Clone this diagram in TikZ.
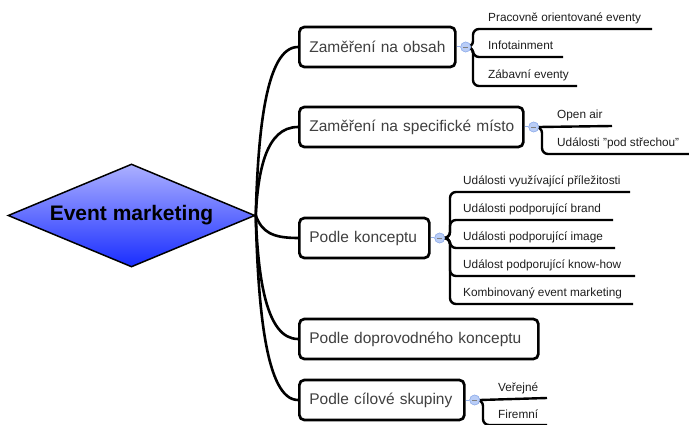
\documentclass[tikz,border=0pt]{standalone}
\usepackage{fontspec}
\setmainfont{Liberation Sans}
\usetikzlibrary{shapes.geometric,calc}
\definecolor{boxtext}{RGB}{64,64,64}
\definecolor{leaftext}{RGB}{30,30,30}
\definecolor{circfill}{RGB}{185,205,247}
\definecolor{circdraw}{RGB}{150,178,235}
\definecolor{dtop}{RGB}{172,176,255}
\definecolor{dbot}{RGB}{25,45,255}
\begin{document}
\begin{tikzpicture}[x=1pt,y=-1pt,
  topic/.style={draw, line width=2.7pt, rounded corners=5pt, fill=white,
    minimum height=40pt, anchor=west, inner xsep=10pt, align=left,
    text=boxtext, font=\fontsize{15.5}{18}\selectfont},
  conn/.style={line width=2.6pt},
  branch/.style={line width=2.4pt, rounded corners=6pt},
  leaf/.style={anchor=base west, inner sep=0pt, text=leaftext,
    font=\fontsize{11.8}{14}\selectfont},
  toggle/.style={circle, fill=circfill, draw=circdraw, line width=0.6pt,
    minimum size=10pt, inner sep=0pt},
  tlink/.style={draw=circdraw, line width=1pt},
  minus/.style={draw=gray, line width=0.6pt}
]
\useasboundingbox (0,0) rectangle (689,425);
\clip (0,0) rectangle (689,425);

% root
\node[shape=diamond, minimum width=247pt, minimum height=103pt, aspect=2.4,
  inner sep=0pt, draw, line width=1.5pt, top color=dtop, bottom color=dbot,
  font=\bfseries\fontsize{21}{24}\selectfont] (root) at (131.5,215.5) {Event marketing};

% topics
\node[topic, text width=136pt] (t1) at (298,47) {\mbox{Zaměření na obsah}};
\node[topic, text width=204pt] (t2) at (298,127) {\mbox{Zaměření na specifické místo}};
\node[topic, text width=110pt] (t3) at (298,238) {\mbox{Podle konceptu}};
\node[topic, text width=219pt] (t4) at (298,339) {\mbox{Podle doprovodného konceptu}};
\node[topic, text width=145pt] (t5) at (298,400) {\mbox{Podle cílové skupiny}};

% connectors root -> topics
\draw[conn] (root.east) .. controls (258,131) and (266,47) .. (t1.west);
\draw[conn] (root.east) .. controls (258,171) and (266,127) .. (t2.west);
\draw[conn] (root.east) .. controls (262,232) and (272,238) .. (t3.west);
\draw[conn] (root.east) .. controls (258,277) and (266,339) .. (t4.west);
\draw[conn] (root.east) .. controls (258,308) and (266,400) .. (t5.west);

% children of t1
\coordinate (e11) at (652,29);
\coordinate (e12) at (563,57);
\coordinate (e13) at (577,86);
% children of t2
\coordinate (e21) at (612,126);
\coordinate (e22) at (692,154);
% children of t3
\coordinate (e31) at (630,192);
\coordinate (e32) at (613,220);
\coordinate (e33) at (615,248);
\coordinate (e34) at (635,276);
\coordinate (e35) at (633,304);
% children of t5
\coordinate (e51) at (547,398);
\coordinate (e52) at (547,425);

% toggles
\foreach \t/\c in {t1/c1, t2/c2, t3/c3, t5/c5} {
  \node[toggle] (\c) at ($(\t.east)+(9,0)$) {};
  \draw[tlink] (\t.east) -- (\c.west);
}

\draw[branch] (c1.east) -- (473,47) -- (473,29) -- (e11);
\draw[branch] (c1.east) -- (473,47) -- (473,57) -- (e12);
\draw[branch] (c1.east) -- (473,47) -- (473,86) -- (e13);
\node[leaf] (l11) at (488,22) {Pracovně orientované eventy};
\node[leaf] (l12) at (488,50) {Infotainment};
\node[leaf] (l13) at (488,79) {Zábavní eventy};

\draw[branch] (c2.east) -- (e21);
\draw[branch] (c2.east) -- (542,127) -- (542,154) -- (e22);
\node[leaf] (l21) at (557,119) {Open air};
\node[leaf] (l22) at (557,147) {Události "pod střechou"};

\draw[branch] (c3.east) -- (450,238) -- (450,192) -- (e31);
\draw[branch] (c3.east) -- (450,238) -- (450,220) -- (e32);
\draw[branch] (c3.east) -- (450,238) -- (450,248) -- (e33);
\draw[branch] (c3.east) -- (450,238) -- (450,276) -- (e34);
\draw[branch] (c3.east) -- (450,238) -- (450,304) -- (e35);
\node[leaf] (l31) at (463,185) {Události využívající příležitosti};
\node[leaf] (l32) at (463,213) {Události podporující brand};
\node[leaf] (l33) at (463,241) {Události podporující image};
\node[leaf] (l34) at (463,269) {Událost podporující know-how};
\node[leaf] (l35) at (463,297) {Kombinovaný event marketing};

\draw[branch] (c5.east) -- (e51);
\draw[branch] (c5.east) -- (483,400) -- (483,425) -- (e52);
\node[leaf] (l51) at (498,391) {Veřejné};
\node[leaf] (l52) at (498,418) {Firemní};

% redraw toggles on top
\foreach \c in {c1, c2, c3, c5} {
  \node[toggle] at (\c) {};
  \draw[minus] ($(\c.center)+(-2.5,0)$) -- ($(\c.center)+(2.5,0)$);
}
\end{tikzpicture}
\end{document}
